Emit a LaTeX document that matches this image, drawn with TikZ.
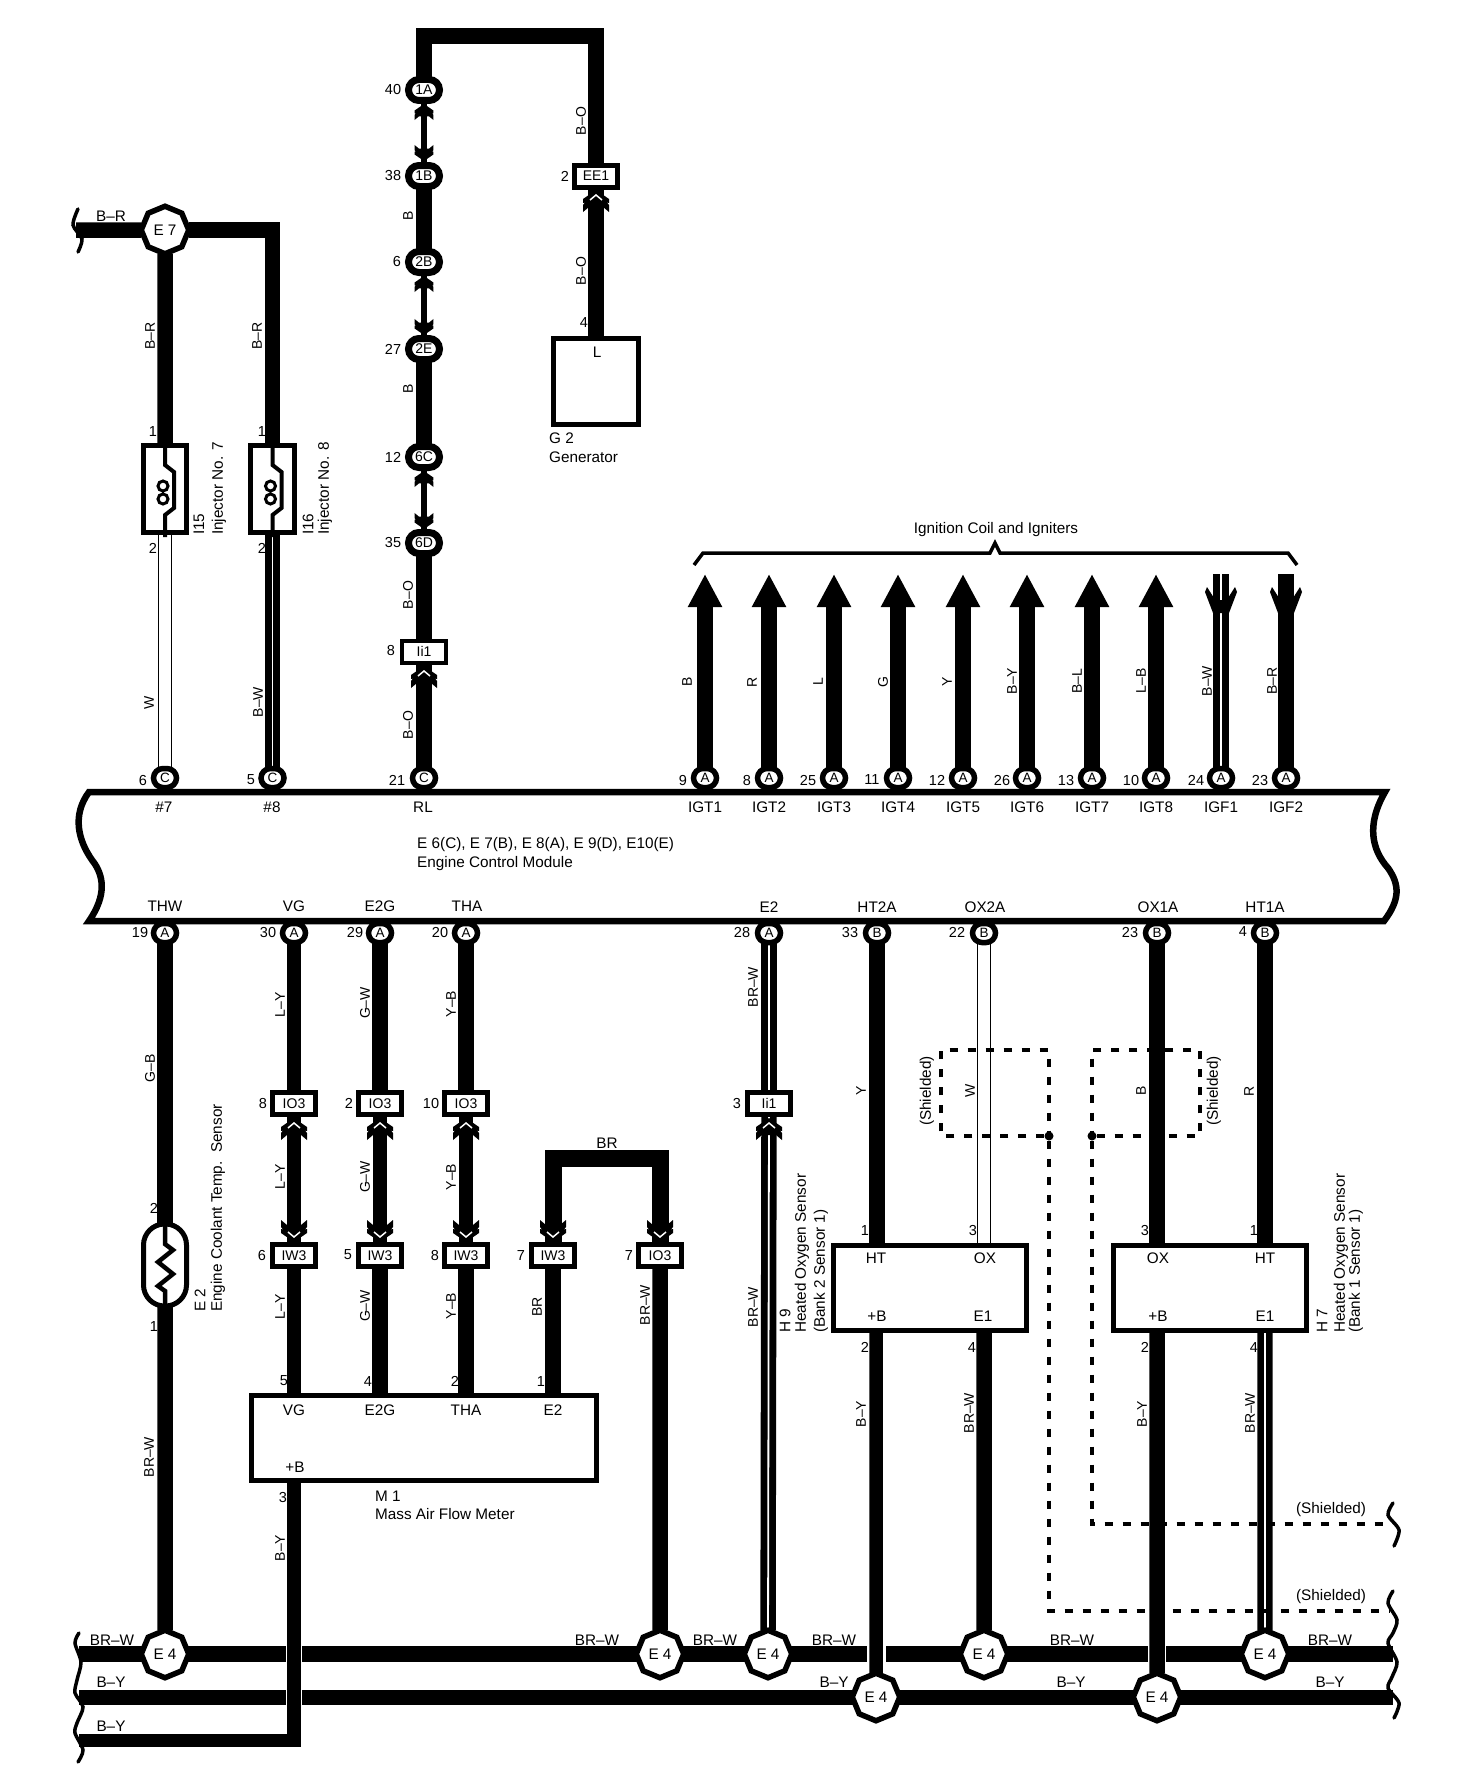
\documentclass[tikz,border=0pt]{standalone}
\usepackage{fontspec}
\setmainfont{Liberation Sans}
\usetikzlibrary{positioning,shapes.geometric,arrows.meta,backgrounds}
\tikzset{
  txt/.style={inner sep=0, font=\fontsize{15.3}{17}\selectfont},
  numtxt/.style={inner sep=0, font=\fontsize{14.5}{16}\selectfont},
  coltxt/.style={inner sep=0, rotate=90, font=\fontsize{14}{16}\selectfont},
  vtxt/.style={txt, rotate=90},
  pinS/.style={rectangle, rounded corners=9.5, draw, fill=white, line width=5.5, minimum width=23, minimum height=19, inner sep=0, outer sep=0, font=\fontsize{13.5}{14}\selectfont},
  pinB/.style={rectangle, rounded corners=10.5, draw, fill=white, line width=7, minimum width=31, minimum height=21, inner sep=0, outer sep=0, font=\fontsize{14}{14}\selectfont},
  conn/.style={rectangle, draw, fill=white, line width=5, minimum width=43.5, minimum height=22, inner sep=0, outer sep=0, font=\fontsize{14}{14}\selectfont},
  octa/.style={regular polygon, regular polygon sides=8, shape border rotate=22.5, draw, fill=white, line width=5.5, minimum size=47.5, inner sep=0, outer sep=0, font=\fontsize{15.3}{17}\selectfont},
  unit/.style={rectangle, draw, fill=white, line width=5, inner sep=0, outer sep=0},
  wire/.style={line width=15.5},
  wirem/.style={line width=13.5},
  thinw/.style={line width=5.5},
  stripe/.style={double, double distance=1.8, line width=6.8},
  hollow/.style={double, double distance=11.5, line width=1.5},
  shield/.style={line width=3.5, dash pattern=on 8 off 10},
  brk/.style={line width=3.5, line cap=round},
  plugs/.pic={
    \fill (0,0) -- (13,9) -- (13,13) -- (11,12.5) -- (13,15) -- (13,22) -- (7,17) -- (-7,17) -- (-13,22) -- (-13,15) -- (-11,12.5) -- (-13,13) -- (-13,9) -- cycle;
  },
  plug/.pic={
    \fill (0,0) -- (13,9) -- (13,13) -- (11,12.5) -- (13,15) -- (13,22) -- (7,17) -- (-7,17) -- (-13,22) -- (-13,15) -- (-11,12.5) -- (-13,13) -- (-13,9) -- cycle;
    \draw[white, line width=1.5] (-6,10) -- (0,5) -- (6,10);
  },
  flare/.pic={
    \fill (-14,0) -- (-16,5) -- (-8,26) -- (8,26) -- (16,5) -- (14,0) -- (7,11) -- (-7,11) -- cycle;
  },
  coil/.pic={
    \draw[line width=4] (0,0) -- (0,20) -- (9,27) -- (9,63) -- (0,70) -- (0,92);
    \draw[line width=3] (-2,41) circle[radius=5] (-2,54) circle[radius=5];
  },
  thermo/.pic={
    \draw[line width=4.5] (0,0) -- (0,20) -- (8,26) -- (-7,38) -- (8,50) -- (-7,62) -- (0,67) -- (0,86);
  },
}
\begin{document}
\begin{tikzpicture}[x=1pt, y=-1pt]
  \useasboundingbox (0,0) rectangle (1456,1782);

  % junctions
  \node[octa] (e7) at (165,230) {E 7};
  \node[octa] (e4a) at (165,1654) {E 4};
  \node[octa] (e4b) at (660,1654) {E 4};
  \node[octa] (e4c) at (768,1654) {E 4};
  \node[octa] (e4d) at (984,1654) {E 4};
  \node[octa] (e4e) at (1265,1654) {E 4};
  \node[octa] (e4f) at (876,1697) {E 4};
  \node[octa] (e4g) at (1157,1697) {E 4};

  % units
  \node[unit, minimum width=43.5, minimum height=87] (i15) at (165,488.5) {};
  \node[unit, minimum width=43.5, minimum height=87] (i16) at (272.5,488.5) {};
  \node[unit, minimum width=85, minimum height=86] (gen) at (596,381.5) {};
  \node[unit, minimum width=345, minimum height=85] (m1) at (424,1438) {};
  \node[unit, minimum width=193, minimum height=85] (h9) at (930,1288) {};
  \node[unit, minimum width=193, minimum height=85] (h7) at (1210,1288) {};
  \node[unit, rounded corners=21, minimum width=43, minimum height=82] (e2s) at (165,1265) {};

  % pins of the module
  \node[pinS] (pC7) at (165,778) {C};
  \node[pinS] (pC8) at (272.5,778) {C};
  \node[pinS] (pRL) at (424,778) {C};
  \foreach \x/\n/\t in {705/1/A,769/2/A,834/3/A,898/4/A,963/5/A,1027/6/A,1092/7/A,1156/8/A,1221/9/A,1286/10/A}
    \node[pinS] (pI\n) at (\x,778) {\t};
  \foreach \x/\n/\t in {165/THW/A,294/VG/A,380/EG/A,466/THA/A,769/E/A,877/HTb/B,984/OXb/B,1157/OXa/B,1265/HTa/B}
    \node[pinS] (p\n) at (\x,933) {\t};
  \foreach \y/\n in {90/1A,176/1B,262/2B,349/2E,457/6C,543/6D}
    \node[pinB] (p\n) at (424,\y) {\n};

  % connectors
  \node[conn] (ee1) at (596,176) {EE1};
  \node[conn, line width=4, minimum width=44] (ii1) at (424,651.5) {Ii1};
  \node[conn] (io1) at (294,1103.5) {IO3};
  \node[conn] (io2) at (380,1103.5) {IO3};
  \node[conn] (io3) at (466,1103.5) {IO3};
  \node[conn] (ii2) at (769,1103.5) {Ii1};
  \node[conn] (iw1) at (294,1255.5) {IW3};
  \node[conn] (iw2) at (380,1255.5) {IW3};
  \node[conn] (iw3) at (466,1255.5) {IW3};
  \node[conn] (iw4) at (553,1255.5) {IW3};
  \node[conn] (io4) at (660,1255.5) {IO3};

  % free ends
  \coordinate (e7end) at (76,230);
  \coordinate (topLoop) at (510,36);
  \coordinate (brTop) at (606,1158);
  \coordinate (busAl) at (79,1654);
  \coordinate (busAr) at (1393,1654);
  \coordinate (busBl) at (79,1697.5);
  \coordinate (busBr) at (1393,1697.5);
  \coordinate (busCl) at (79,1740.5);
  \coordinate (shEndA) at (1390,1524);
  \coordinate (shEndB) at (1390,1611);
  \foreach \n/\x in {1/705,2/769,3/834,4/898,5/963,6/1027,7/1092,8/1156,9/1221,10/1286}
    \coordinate (tI\n) at (\x,574);

  \begin{scope}[on background layer]
    % module outline
    \draw[line width=6.5] (89,792) -- (1385,792) .. controls (1366,825) and (1372,850) .. (1388,868)
      .. controls (1400,885) and (1400,900) .. (1384,921) -- (89,921)
      .. controls (107,895) and (104,875) .. (92,860) .. controls (78,840) and (72,815) .. (89,792) -- cycle;
    % buses
    \draw[wire] (busAl) -- (busAr);
    \draw[wire] (busBl) -- (busBr);
    \fill[white] (285.5,1640) rectangle (302,1712);
    \fill[white] (867,1640) rectangle (886,1668);
    \fill[white] (1148,1640) rectangle (1166,1668);
    % top half
    \draw[wire] (e7end) -- (e7);
    \draw[wire] (e7) -- (i15);
    \draw[wire] (e7) -| (i16);
    \draw[hollow] (i15) -- (pC7);
    \draw[stripe] (i16) -- (pC8);
    \draw[wire] (p1A) |- (topLoop) -| (ee1);
    \draw[thinw] (p1A) -- (p1B);
    \draw[wire] (p1B) -- (p2B);
    \draw[thinw] (p2B) -- (p2E);
    \draw[wire] (p2E) -- (p6C);
    \draw[thinw] (p6C) -- (p6D);
    \draw[wire] (p6D) -- (ii1);
    \draw[wire] (ii1) -- (pRL);
    \draw[wire] (ee1) -- (gen);
    \foreach \n in {1,...,8}
      \draw[wire, -{Triangle[length=33pt, width=32pt]}] (pI\n) -- (tI\n);
    \draw[stripe] (pI9) -- (tI9);
    \draw[wire] (pI10) -- (tI10);
    % bottom half
    \draw[wire] (pTHW) -- (e2s);
    \draw[wire] (e2s) -- (e4a);
    \draw[wirem] (pVG) -- (io1);
    \draw[wire] (pEG) -- (io2);
    \draw[wire] (pTHA) -- (io3);
    \draw[wirem] (io1) -- (iw1);
    \draw[wirem] (io2) -- (iw2);
    \draw[wirem] (io3) -- (iw3);
    \draw[wirem] (iw1) -- (iw1 |- m1.north);
    \draw[wire] (iw2) -- (iw2 |- m1.north);
    \draw[wire] (iw3) -- (iw3 |- m1.north);
    \draw[wire] (iw4) -- (iw4 |- m1.north);
    \draw[line width=17] (iw4) |- (brTop) -| (io4);
    \draw[wire] (io4) -- (e4b);
    \draw[wirem] (m1.south -| iw1) |- (busCl);
    \draw[stripe] (pE) -- (ii2);
    \draw[stripe] (ii2) -- (e4c);
    \draw[wire] (pHTb) -- (pHTb |- h9.north);
    \draw[hollow] (pOXb) -- (pOXb |- h9.north);
    \draw[wire] (pOXa) -- (pOXa |- h7.north);
    \draw[wire] (pHTa) -- (pHTa |- h7.north);
    \draw[wirem] (h9.south -| e4f) -- (e4f);
    \draw[wire] (h9.south -| e4d) -- (e4d);
    \draw[wire] (h7.south -| e4g) -- (e4g);
    \draw[stripe] (h7.south -| e4e) -- (e4e);
  \end{scope}

  % symbols inside the units
  \pic at (i15.north) {coil};
  \pic at (i16.north) {coil};
  \pic at (e2s.north) {thermo};

  % mating marks
  \pic at (596,190) {plug};
  \pic at (424,666) {plug};
  \foreach \x in {294,380,466,769}
    \pic at (\x,1118) {plug};
  \foreach \x in {294,380,466,553,660}
    \pic[yscale=-1] at (\x,1242) {plug};
  \foreach \a/\b in {104/161,276/335,471/529} {
    \pic[scale=.73] at (424,\a) {plugs};
    \pic[xscale=.73, yscale=-.73] at (424,\b) {plugs};
  }
  \pic at (1221,587) {flare};
  \pic at (1286,587) {flare};
  \draw[white, line width=1.8] (tI9) -- (1221,600);

  % shield lines
  \node[circle, fill, minimum size=9, inner sep=0] (shL) at (1049,1136) {};
  \node[circle, fill, minimum size=9, inner sep=0] (shR) at (1092,1136) {};
  \draw[shield] (shL) -- (941,1136) -- (941,1050) -- (1049,1050) -- (shL);
  \draw[shield] (shR) -- (1200,1136) -- (1200,1050) -- (1092,1050) -- (shR);
  \draw[shield] (shL) |- (shEndB);
  \draw[shield] (shR) |- (shEndA);

  % breaks and brace
  \draw[brk] plot[smooth] coordinates {(78,209) (73,225) (82,239) (78,252)};
  \draw[brk] plot[smooth] coordinates {(79,1633) (75,1643) (81,1662) (77,1680) (75,1693) (83,1707) (77,1723) (75,1733) (83,1750) (78,1762)};
  \draw[brk] plot[smooth] coordinates {(1393,1503) (1388,1515) (1399,1530) (1394,1546)};
  \draw[brk] plot[smooth] coordinates {(1393,1591) (1388,1603) (1397,1620) (1393,1633) (1388,1643) (1397,1662) (1392,1677) (1388,1688) (1399,1703) (1394,1718)};
  \draw[line width=3.5] (694,565) -- (703,553) -- (990,553) -- (995,543) -- (1000,553) -- (1288,553) -- (1297,565);

  % pin numbers
  \foreach \x/\y/\t [count=\i] in {
    393/90/40, 393/176/38, 397/262/6, 393/349/27, 393/457/12, 393/543/35, 565/176/2, 584/323/4, 391/651/8,
    153/432/1, 262/432/1, 153/548/2, 262/548/2,
    143/780/6, 251/780/5, 397/780/21, 683/780/9, 747/780/8, 808/780/25, 872/780/11, 937/780/12, 1002/780/26, 1066/780/13, 1131/780/10, 1196/780/24, 1260/780/23,
    140/932/19, 268/932/30, 355/932/29, 440/932/20, 742/932/28, 850/932/33, 957/932/22, 1130/932/23, 1243/932/4,
    263/1103/8, 349/1103/2, 431/1103/10, 737/1103/3,
    262/1255/6, 348/1255/5, 435/1255/8, 521/1255/7, 629/1255/7,
    154/1208/2, 154/1326/1, 284/1381/5, 368/1381/4, 455/1381/2, 541/1381/1, 283/1497/3,
    865/1230/1, 973/1230/3, 1145/1230/3, 1254/1230/1, 865/1347/2, 972/1347/4, 1145/1347/2, 1254/1347/4}
    \node[numtxt] (num\i) at (\x,\y) {\t};

  % horizontal labels
  \foreach \x/\y/\t [count=\i] in {
    111/216/B--R, 607/1143/BR, 597/352/L,
    164/807/\#7, 272/807/\#8, 423/807/RL,
    705/807/IGT1, 769/807/IGT2, 834/807/IGT3, 898/807/IGT4, 963/807/IGT5, 1027/807/IGT6, 1092/807/IGT7, 1156/807/IGT8, 1221/807/IGF1, 1286/807/IGF2,
    165/906/THW, 294/906/VG, 380/906/E2G, 467/906/THA, 769/907/E2, 877/907/HT2A, 985/907/OX2A, 1158/907/OX1A, 1265/907/HT1A,
    294/1410/VG, 380/1410/E2G, 466/1410/THA, 553/1410/E2, 295/1467/+B,
    876/1258/HT, 985/1258/OX, 1158/1258/OX, 1265/1258/HT, 877/1316/+B, 983/1316/E1, 1158/1316/+B, 1265/1316/E1,
    112/1640/BR--W, 597/1640/BR--W, 715/1640/BR--W, 834/1640/BR--W, 1072/1640/BR--W, 1330/1640/BR--W,
    111/1682/B--Y, 834/1682/B--Y, 1071/1682/B--Y, 1330/1682/B--Y, 111/1726/B--Y,
    1331/1510/(Shielded), 1331/1597/(Shielded), 996/530/Ignition Coil and Igniters}
    \node[txt] (lab\i) at (\x,\y) {\t};

  % wire colours
  \foreach \x/\y/\t [count=\i] in {
    150/336/B--R, 257/336/B--R, 581/121/B--O, 581/271/B--O, 408/216/B, 408/389/B, 408/595/B--O, 408/725/B--O, 149/703/W, 258/702/B--W,
    687/682/B, 752/682/R, 818/682/L, 883/682/G, 947/682/Y, 1012/681/B--Y, 1077/681/B--L, 1141/681/L--B, 1207/681/B--W, 1272/681/B--R,
    150/1068/G--B, 280/1005/L--Y, 365/1003/G--W, 451/1004/Y--B, 280/1177/L--Y, 365/1177/G--W, 451/1177/Y--B, 280/1307/L--Y, 365/1306/G--W, 451/1306/Y--B,
    537/1307/BR, 645/1305/BR--W, 149/1457/BR--W, 280/1548/B--Y, 753/987/BR--W, 753/1307/BR--W,
    861/1091/Y, 970/1091/W, 1141/1091/B, 1249/1091/R,
    861/1414/B--Y, 969/1413/BR--W, 1142/1414/B--Y, 1250/1413/BR--W}
    \node[coltxt] (col\i) at (\x,\y) {\t};
  \node[vtxt] (shTxtA) at (927,1091) {(Shielded)};
  \node[vtxt] (shTxtB) at (1214,1091) {(Shielded)};

  % part names
  \foreach \x/\y/\t [count=\i] in {
    199/535/I15, 219/535/Injector No. 7, 308/535/I16, 325/535/Injector No. 8,
    200/1312/E 2, 218/1312/Engine Coolant Temp.~~Sensor,
    785/1333/H 9, 802/1333/Heated Oxygen Sensor, 821/1333/(Bank 2 Sensor 1),
    1322/1333/H 7, 1341/1333/Heated Oxygen Sensor, 1356/1333/(Bank 1 Sensor 1)}
    \node[vtxt, anchor=west] (part\i) at (\x,\y) {\t};
  \foreach \x/\y/\t [count=\i] in {
    549/438/G 2, 549/457/Generator, 375/1496/M 1, 375/1514/Mass Air Flow Meter,
    417/845/{E 6(C), E 7(B), E 8(A), E 9(D), E10(E)}, 417/864/Engine Control Module}
    \node[txt, anchor=west] (name\i) at (\x,\y) {\t};
\end{tikzpicture}
\end{document}
